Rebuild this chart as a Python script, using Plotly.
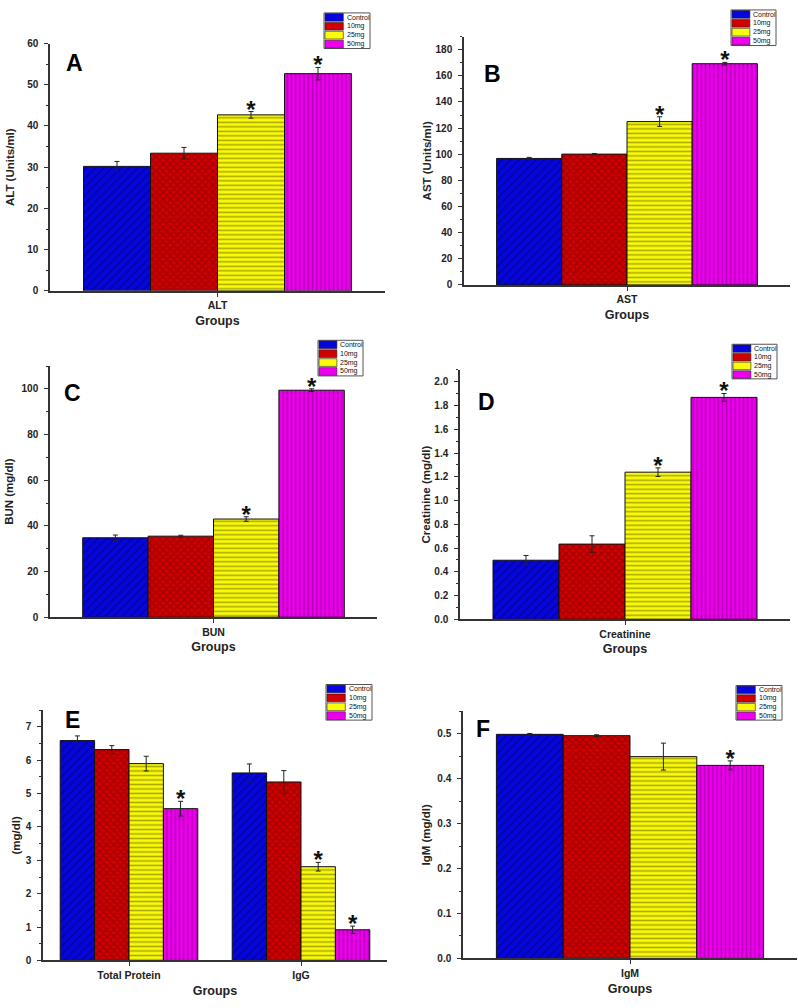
import plotly.graph_objects as go

# ---------------- data ----------------
doses = ["Control", "10mg", "25mg", "50mg"]

alt_cat = ["ALT"]
alt_mean = [30.2, 33.4, 42.7, 52.7]
alt_err = [1.2, 1.4, 0.8, 1.5]
alt_sig = [False, False, True, True]

ast_cat = ["AST"]
ast_mean = [96.8, 100.1, 125.0, 169.3]
ast_err = [0.8, 0.5, 3.7, 1.0]
ast_sig = [False, False, True, True]

bun_cat = ["BUN"]
bun_mean = [34.8, 35.5, 43.0, 99.4]
bun_err = [1.2, 0.4, 1.0, 0.6]
bun_sig = [False, False, True, True]

cre_cat = ["Creatinine"]
cre_mean = [0.497, 0.633, 1.239, 1.869]
cre_err = [0.04, 0.07, 0.036, 0.033]
cre_sig = [False, False, True, True]

prot_cat = ["Total Protein", "IgG"]
tp_mean = [6.59, 6.32, 5.90, 4.55]
tp_err = [0.14, 0.12, 0.22, 0.22]
tp_sig = [False, False, False, True]
igg_mean = [5.62, 5.35, 2.81, 0.92]
igg_err = [0.27, 0.34, 0.13, 0.11]
igg_sig = [False, False, True, True]

igm_cat = ["IgM"]
igm_mean = [0.4985, 0.4956, 0.449, 0.4295]
igm_err = [0.002, 0.002, 0.03, 0.01]
igm_sig = [False, False, False, True]

# ---------------- styles ----------------
FONT = "Liberation Sans, Arial, sans-serif"
W, H = 798, 1008
fill_colors = ["#0606DC", "#D00000", "#FAFA0A", "#EE00EE"]
line_colors = ["#00006E", "#700000", "#5A5A00", "#7A007E"]
shapes_pat = ["/", "x", "-", "|"]
sizes_pat = [6, 5, 4.5, 4.2]
solid_pat = [0.3, 0.45, 0.35, 0.35]


def px_x(p):
    return p / W


def px_y(p):
    return 1 - p / H


# panel geometry in pixels: x-left, x-right, y-top, y-bottom
panels = [
    dict(name="A", cats=alt_cat, means=[[v] for v in alt_mean], errs=[[v] for v in alt_err],
         sigs=[[v] for v in alt_sig], rng=[0, 60], dtick=10, fmt="d", ytitle="ALT (Units/ml)",
         box=(50, 385, 39, 289), leg=(324, 370, 8, 44), letter=(74, 59), ts=10),
    dict(name="B", cats=ast_cat, means=[[v] for v in ast_mean], errs=[[v] for v in ast_err],
         sigs=[[v] for v in ast_sig], rng=[0, 190], dtick=20, fmt="d", ytitle="AST (Units/ml)",
         box=(464, 790, 32, 283), leg=(731, 776, 5, 41), letter=(492, 70), ts=2),
    dict(name="C", cats=bun_cat, means=[[v] for v in bun_mean], errs=[[v] for v in bun_err],
         sigs=[[v] for v in bun_sig], rng=[0, 110], dtick=20, fmt="d", ytitle="BUN (mg/dl)",
         box=(50, 377, 365, 619), leg=(318, 363, 339, 375), letter=(72, 392), ts=6),
    dict(name="D", cats=cre_cat, means=[[v] for v in cre_mean], errs=[[v] for v in cre_err],
         sigs=[[v] for v in cre_sig], rng=[0, 2.1], dtick=0.2, fmt=".1f", ytitle="Creatinine (mg/dl)",
         box=(460, 790, 369, 621), leg=(732, 777, 343, 378), letter=(486, 401), ts=1),
    dict(name="E", cats=prot_cat, means=[list(p) for p in zip(tp_mean, igg_mean)],
         errs=[list(p) for p in zip(tp_err, igg_err)], sigs=[list(p) for p in zip(tp_sig, igg_sig)],
         rng=[0, 7.5], dtick=1, fmt="d", ytitle="(mg/dl)",
         box=(43, 387, 713, 966), leg=(326, 372, 687, 723), letter=(72, 723), ts=3),
    dict(name="F", cats=igm_cat, means=[[v] for v in igm_mean], errs=[[v] for v in igm_err],
         sigs=[[v] for v in igm_sig], rng=[0, 0.55], dtick=0.1, fmt=".1f", ytitle="IgM (mg/dl)",
         box=(463, 797, 714, 964), leg=(736, 782, 688, 723), letter=(483, 732), ts=4),
]

fig = go.Figure()
layout = dict(
    width=W, height=H, margin=dict(l=0, r=0, t=0, b=0),
    paper_bgcolor="white", plot_bgcolor="white",
    barmode="group", bargap=0.2, bargroupgap=0,
    scattermode="group", scattergap=0.2,
    showlegend=False, font=dict(family=FONT, color="#111"),
)
shapes = []
annotations = []

for i, p in enumerate(panels):
    k = "" if i == 0 else str(i + 1)
    xa, ya = "x" + k, "y" + k
    for d, dose in enumerate(doses):
        fig.add_trace(go.Bar(
            x=p["cats"], y=p["means"][d], name=dose, xaxis=xa, yaxis=ya,
            offsetgroup=dose,
            marker=dict(color=fill_colors[d], line=dict(color="#111", width=1),
                        pattern=dict(shape=shapes_pat[d], fillmode="overlay", fgcolor=line_colors[d],
                                     size=sizes_pat[d], solidity=solid_pat[d])),
            error_y=dict(type="data", array=p["errs"][d], visible=True, color="#222",
                         thickness=1, width=2.5),
        ))
        tops = [m + e for m, e in zip(p["means"][d], p["errs"][d])]
        fig.add_trace(go.Scatter(
            x=p["cats"], y=tops, xaxis=xa, yaxis=ya, mode="text", offsetgroup=dose,
            text=["*" if s else "" for s in p["sigs"][d]], textposition="middle center",
            textfont=dict(family=FONT, size=24, color="#111", weight="bold"),
            hoverinfo="skip", cliponaxis=False,
        ))
    x0, x1, y0, y1 = p["box"]
    layout["xaxis" + k] = dict(
        domain=[px_x(x0), px_x(x1)], anchor=ya, type="category",
        range=[-0.5, len(p["cats"]) - 0.5],
        showline=True, linecolor="#333", linewidth=1.5, ticks="outside", ticklen=4,
        tickwidth=1.2, tickcolor="#333", showgrid=False, zeroline=False,
        tickfont=dict(family=FONT, size=10.5, color="#222", weight="bold"),
        title=dict(text="Groups", font=dict(family=FONT, size=12.5, color="#222", weight="bold"),
                   standoff=6),
    )
    layout["yaxis" + k] = dict(
        domain=[px_y(y1), px_y(y0)], anchor=xa, range=p["rng"], tick0=0, dtick=p["dtick"],
        tickformat=p["fmt"], showline=True, linecolor="#333", linewidth=1.5,
        ticks="outside", ticklen=4, tickwidth=1.2, tickcolor="#333", ticklabelstandoff=4,
        minor=dict(ticks="outside", ticklen=2.5, tickwidth=1, tickcolor="#333", dtick=p["dtick"] / 2),
        showgrid=False, zeroline=False,
        tickfont=dict(family=FONT, size=10, color="#222", weight="bold"),
        title=dict(text=p["ytitle"], font=dict(family=FONT, size=11.5, color="#222", weight="bold"),
                   standoff=p["ts"]),
    )
    # panel letter
    lx, ly = p["letter"]
    annotations.append(dict(
        x=px_x(lx), y=px_y(ly), xref="paper", yref="paper", text=p["name"], showarrow=False,
        xanchor="center", yanchor="middle",
        font=dict(family=FONT, size=23, color="black", weight="bold")))
    # small legend box
    lx0, lx1, ly0, ly1 = p["leg"]
    shapes.append(dict(type="rect", xref="paper", yref="paper",
                       x0=px_x(lx0), x1=px_x(lx1), y0=px_y(ly1), y1=px_y(ly0),
                       line=dict(color="#555", width=1), fillcolor="white"))
    row_h = (ly1 - ly0) / len(doses)
    sw = 0.42 * (lx1 - lx0)
    for d, dose in enumerate(doses):
        ry0 = ly0 + d * row_h
        shapes.append(dict(type="rect", xref="paper", yref="paper",
                           x0=px_x(lx0 + 1), x1=px_x(lx0 + sw), y0=px_y(ry0 + row_h - 0.6),
                           y1=px_y(ry0 + 0.6), line=dict(color="#222", width=0.6),
                           fillcolor=fill_colors[d]))
        annotations.append(dict(
            x=px_x(lx0 + sw + 1.5), y=px_y(ry0 + row_h / 2), xref="paper", yref="paper",
            text=dose, showarrow=False, xanchor="left", yanchor="middle",
            font=dict(family=FONT, size=7, color="#111")))

layout["shapes"] = shapes
layout["annotations"] = annotations
fig.update_layout(**layout)
fig.write_html("out.html", config={"displayModeBar": False},
               post_script="document.body.style.margin='0';")
